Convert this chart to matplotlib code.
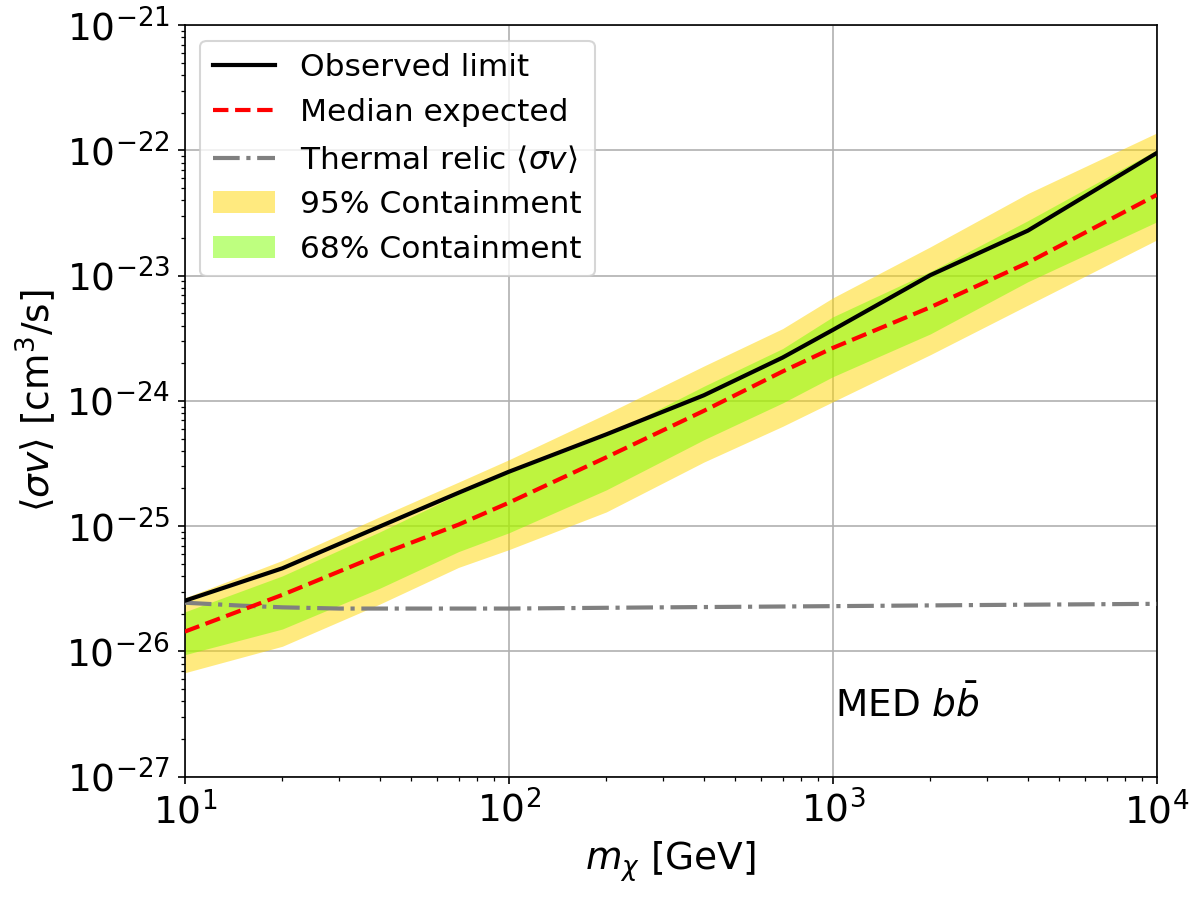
import numpy as np
import matplotlib
matplotlib.use("Agg")
import matplotlib.pyplot as plt

# Dark matter mass [GeV]
mass = [10, 20, 40, 70, 100, 200, 400, 700, 1000, 2000, 4000, 10000]

observed = [2.54e-26, 4.61e-26, 9.95e-26, 1.85e-25, 2.72e-25, 5.41e-25,
            1.11e-24, 2.22e-24, 3.69e-24, 1.01e-23, 2.29e-23, 9.55e-23]
median = [1.44e-26, 2.83e-26, 5.92e-26, 1.03e-25, 1.54e-25, 3.55e-25,
          8.34e-25, 1.72e-24, 2.65e-24, 5.60e-24, 1.27e-23, 4.42e-23]
band95_hi = [2.68e-26, 5.33e-26, 1.19e-25, 2.25e-25, 3.39e-25, 7.89e-25,
             1.90e-24, 3.78e-24, 6.65e-24, 1.70e-23, 4.53e-23, 1.38e-22]
band68_hi = [2.07e-26, 4.01e-26, 9.01e-26, 1.80e-25, 2.67e-25, 5.27e-25,
             1.31e-24, 2.62e-24, 4.69e-24, 1.08e-23, 2.75e-23, 1.01e-22]
band68_lo = [9.42e-27, 1.51e-26, 3.20e-26, 6.27e-26, 8.85e-26, 1.95e-25,
             4.90e-25, 9.64e-25, 1.56e-24, 3.43e-24, 8.95e-24, 2.69e-23]
band95_lo = [6.76e-27, 1.10e-26, 2.39e-26, 4.69e-26, 6.49e-26, 1.30e-25,
             3.25e-25, 6.27e-25, 9.84e-25, 2.34e-24, 5.82e-24, 1.93e-23]

thermal_mass = [10, 15, 20, 30, 50, 100, 300, 1000, 3000, 10000]
thermal = [2.45e-26, 2.32e-26, 2.25e-26, 2.2e-26, 2.2e-26, 2.2e-26,
           2.25e-26, 2.3e-26, 2.35e-26, 2.4e-26]

plt.rcParams['font.size'] = 18

fig = plt.figure(figsize=(8, 6), dpi=150)
ax = fig.add_axes([0.154, 0.137, 0.81, 0.835])

ax.plot(mass, observed, color='black', lw=2, label='Observed limit', zorder=4)
ax.plot(mass, median, color='red', ls='--', lw=2, label='Median expected', zorder=4)
ax.plot(thermal_mass, thermal, color='gray', ls='-.', lw=2,
        label=r'Thermal relic $\langle\sigma v\rangle$', zorder=3)
ax.fill_between(mass, band95_lo, band95_hi, color='gold', alpha=0.5, lw=0,
                label='95% Containment', zorder=1)
ax.fill_between(mass, band68_lo, band68_hi, color='chartreuse', alpha=0.5, lw=0,
                label='68% Containment', zorder=2)

ax.set_xscale('log')
ax.set_yscale('log')
ax.set_xlim(10, 1e4)
ax.set_ylim(1e-27, 1e-21)
ax.grid(True, which='major')
ax.set_axisbelow(True)

ax.set_xlabel(r'$m_\chi$ [GeV]')
ax.set_ylabel(r'$\langle\sigma v\rangle$ [cm$^3$/s]')

ax.text(0.669, 0.08, r'MED $b\bar{b}$', transform=ax.transAxes,
        fontsize=18, va='baseline', ha='left')

ax.legend(loc='upper left', fontsize=15)

fig.savefig('out.png', dpi=150)
